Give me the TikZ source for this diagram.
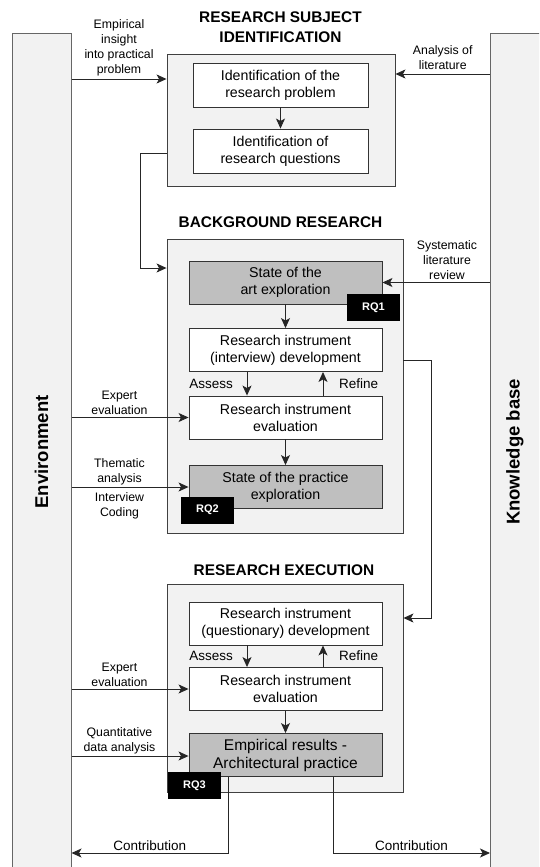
\documentclass[tikz,border=0pt]{standalone}
\usepackage{fontspec}
\setmainfont{Liberation Sans}
\usetikzlibrary{arrows.meta}

\begin{document}
\begin{tikzpicture}[x=1pt, y=-1pt,
			bar/.style={draw=black!60, fill=black!5, line width=1pt, minimum height=846pt, inner sep=0pt},
			side/.style={font=\bfseries\fontsize{18.5}{22}\selectfont, rotate=90},
			phase/.style={draw=black!75, fill=black!5, line width=0.9pt, inner sep=0pt},
			ttl/.style={font=\bfseries\fontsize{15.4}{20}\selectfont, align=center},
			task/.style={draw=black!80, fill=white, line width=0.9pt, minimum width=193pt, minimum height=43pt, inner sep=0pt, align=center, font=\fontsize{14.2}{17}\selectfont},
			done/.style={task, fill=black!25},
			rq/.style={fill=black, text=white, minimum width=53pt, minimum height=27pt, inner sep=0pt, font=\bfseries\fontsize{11}{13}\selectfont},
			lbl/.style={font=\fontsize{12.3}{15}\selectfont, align=center, inner sep=2pt},
			note/.style={font=\fontsize{13.5}{16}\selectfont, inner sep=2pt},
			arr/.style={-{Stealth[length=10pt, width=9pt, inset=2.5pt]}, line width=0.9pt, draw=black!85}]
			\useasboundingbox (0,0) rectangle (539,867);
			\clip (0,0) rectangle (539,867);
			\node[bar, minimum width=59pt] (env) at (41.5,457) {};
			\node[bar, minimum width=54pt] (kb) at (517.5,457) {};
			\node[side] (envtxt) at (41.5,452) {Environment};
			\node[side] (kbtxt) at (515,452) {Knowledge base};
			
			\node[phase, minimum width=228pt, minimum height=132pt] (rsi) at (281,120) {};
			\node[phase, minimum width=236pt, minimum height=294pt] (bgr) at (285,386) {};
			\node[phase, minimum width=236pt, minimum height=208pt] (rex) at (285,688) {};
			\node[ttl] (rsittl) at (280.5,27) {RESEARCH SUBJECT\\IDENTIFICATION};
			\node[ttl] (bgrttl) at (280.5,222) {BACKGROUND RESEARCH};
			\node[ttl] (rexttl) at (284,570) {RESEARCH EXECUTION};
			
			\node[task, minimum width=175pt, minimum height=44pt] (prob) at (280.5,85) {Identification of the\\research problem};
			\node[task, minimum width=175pt, minimum height=44pt] (ques) at (280.5,151) {Identification of\\research questions};
			\node[done] (sota) at (285.5,282.5) {State of the\\art exploration};
			\node[task] (idev) at (285.5,350) {Research instrument\\(interview) development};
			\node[task] (ieval) at (285.5,417.5) {Research instrument\\evaluation};
			\node[done] (sotp) at (285.5,487) {State of the practice\\exploration};
			\node[task] (qdev) at (285.5,623.5) {Research instrument\\(questionary) development};
			\node[task] (qeval) at (285.5,689) {Research instrument\\evaluation};
			\node[done, font=\fontsize{15.5}{18}\selectfont] (emp) at (285.5,755) {Empirical results -\\Architectural practice};
			
			\draw[arr] (env.east |- 0,79) -- node[lbl, above] (l1) {Empirical\\insight\\into practical\\problem} (rsi.west |- 0,79);
			\draw[arr] (kb.west |- 0,74) -- node[lbl, above, yshift=1.5pt] (l2) {Analysis of\\literature} (rsi.east |- 0,74);
			\draw[arr] (prob) -- (ques);
			\draw[arr] (rsi.west |- 0,153) -- ++(-26,0) |- (bgr.west |- 0,268);
			
			\draw[arr] (kb.west |- sota) -- node[lbl, above, pos=0.4] (l3) {Systematic\\literature\\review} (sota.east);
			\draw[arr] (sota) -- (idev);
			\draw[arr] ([xshift=-38.5pt]idev.south) -- ([xshift=-38.5pt]ieval.north);
			\draw[arr] ([xshift=37.5pt]ieval.north) -- ([xshift=37.5pt]idev.south);
			\node[note, anchor=east] (as1) at (235,384) {Assess};
			\node[note, anchor=west] (re1) at (337,384) {Refine};
			\draw[arr] (env.east |- ieval) -- node[lbl, above, pos=0.41] (l4) {Expert\\evaluation} (ieval.west);
			\draw[arr] (ieval) -- (sotp);
			\draw[arr] (env.east |- sotp) -- node[lbl, above, pos=0.41] (l5) {Thematic\\analysis} node[lbl, below, pos=0.41, yshift=-3pt] (l6) {Interview\\Coding} (sotp.west);
			\draw[arr] (bgr.east |- 0,360) -- ++(28,0) |- (rex.east |- 0,618);
			
			\draw[arr] ([xshift=-38.5pt]qdev.south) -- ([xshift=-38.5pt]qeval.north);
			\draw[arr] ([xshift=37.5pt]qeval.north) -- ([xshift=37.5pt]qdev.south);
			\node[note, anchor=east] (as2) at (235,656) {Assess};
			\node[note, anchor=west] (re2) at (337,656) {Refine};
			\draw[arr] (env.east |- qeval) -- node[lbl, above, pos=0.41] (l7) {Expert\\evaluation} (qeval.west);
			\draw[arr] (qeval) -- (emp);
			\draw[arr] (env.east |- 0,756) -- node[lbl, above, pos=0.41] (l8) {Quantitative\\data analysis} (emp.west |- 0,756);
			\draw[arr] (emp.south -| 228,0) |- node[note, above, pos=0.75] (con1) {Contribution} (env.east |- 0,853);
			\draw[arr] (emp.south -| 333,0) |- node[note, above, pos=0.75] (con2) {Contribution} (kb.west |- 0,853);
			
			\node[rq] (rq1) at (373.5,307.5) {RQ1};
			\node[rq] (rq2) at (207.5,510) {RQ2};
			\node[rq] (rq3) at (194.5,785.5) {RQ3};
\end{tikzpicture}
\end{document}
